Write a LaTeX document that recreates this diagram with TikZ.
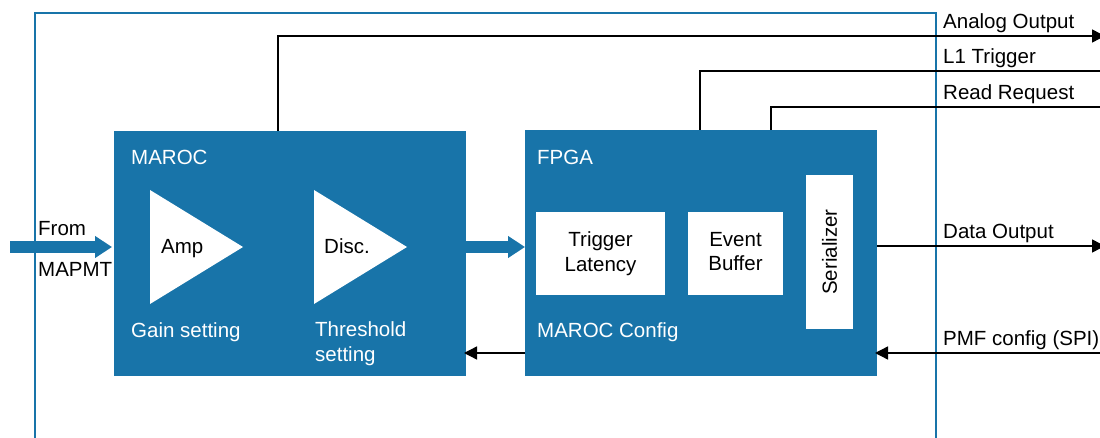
\documentclass[tikz,border=0pt]{standalone}
\usepackage{fontspec}
\setmainfont{Liberation Sans}
\usetikzlibrary{arrows.meta}
\definecolor{mblue}{RGB}{24,116,169}
\begin{document}
\begin{tikzpicture}[x=1pt,y=-1pt,
  blk/.style={fill=mblue, draw=none, inner sep=0pt, outer sep=0pt},
  wbox/.style={fill=white, draw=none, inner sep=0pt, outer sep=0pt, align=center, text=black},
  wlab/.style={text=white, inner sep=0pt, anchor=base west},
  blab/.style={text=black, inner sep=0pt, anchor=base west},
  sig/.style={line width=1.4pt, draw=black},
  arr/.style={sig, -{Triangle[length=13pt,width=13pt]}},
  fat/.style={draw=mblue, line width=12pt, -{Triangle[length=17pt,width=21pt]}},
  tri/.style={fill=white}
  ]
\fontsize{20.5}{24.6}\selectfont
\useasboundingbox (0,0) rectangle (1100,438);
\fill[white] (0,0) rectangle (1100,438);

% outer frame
\draw[mblue, line width=1.8pt] (35,440) -- (35,13) -- (936,13) -- (936,440);

% main blocks
\node[blk, minimum width=352pt, minimum height=245pt, anchor=north west] (maroc) at (114,131) {};
\node[blk, minimum width=352pt, minimum height=246pt, anchor=north west] (fpga) at (525,130) {};

% MAROC contents
\fill[tri] (150,190) -- (150,304) -- (243,247) -- cycle;
\fill[tri] (314,190) -- (314,304) -- (407,247) -- cycle;
\node[blab] (amp) at (161,254) {Amp};
\node[blab] (disc) at (324,254) {Disc.};
\node[wlab] (maroclab) at (131,165) {MAROC};
\node[wlab] (gain) at (131,337) {Gain setting};
\node[wlab, align=left] (thr) at (315,361) {Threshold\\setting};

% FPGA contents
\node[wlab] (fpgalab) at (537,165) {FPGA};
\node[wlab] (mcfg) at (537,337) {MAROC Config};
\node[wbox, minimum width=129pt, minimum height=83pt, anchor=north west] (trig) at (536,212) {Trigger\\Latency};
\node[wbox, minimum width=95pt, minimum height=83pt, anchor=north west, text depth=4pt] (evt) at (688,212) {Event\\Buffer};
\node[wbox, minimum width=154pt, minimum height=47pt, rotate=90] (ser) at (829.5,252) {Serializer};

% input arrows
\coordinate (in) at (10,247);
\draw[fat, shorten >=2pt] (in) -- (in -| maroc.west);
\draw[fat] (in -| maroc.east) -- (in -| fpga.west);
\node[blab] (from) at (38,236) {From};
\node[blab] (mapmt) at (38,277) {MAPMT};

% outputs
\coordinate (ax) at (278,0);
\coordinate (aend) at (1105,36);
\draw[arr] (maroc.north -| ax) |- (aend);
\coordinate (lx) at (700,0);
\coordinate (lend) at (1100,71);
\draw[sig] (fpga.north -| lx) |- (lend);
\coordinate (rx) at (771,0);
\coordinate (rend) at (1100,107);
\draw[sig] (fpga.north -| rx) |- (rend);
\coordinate (dend) at (1105,246);
\draw[arr] (fpga.east |- dend) -- (dend);
\coordinate (pstart) at (1100,353);
\draw[arr, shorten >=-2pt] (pstart) -- (pstart -| fpga.east);
\draw[arr, shorten >=-2pt] (fpga.west |- pstart) -- (maroc.east |- pstart);

\node[blab] (alab) at (943,29) {Analog Output};
\node[blab] (l1lab) at (943,64) {L1 Trigger};
\node[blab] (rrlab) at (943,100) {Read Request};
\node[blab] (dlab) at (943,239) {Data Output};
\node[blab] (plab) at (943,345.5) {PMF config (SPI)};
\end{tikzpicture}
\end{document}
